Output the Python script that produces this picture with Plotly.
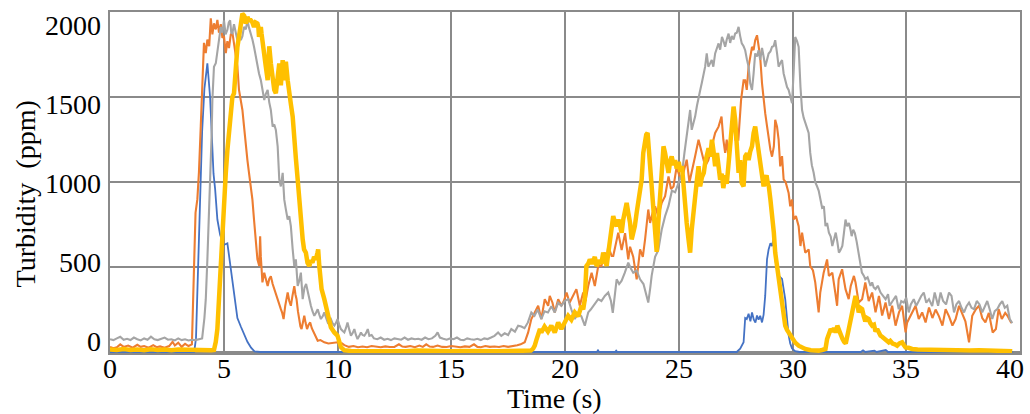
import plotly.graph_objects as go

# Turbidity readings (time in s, turbidity in ppm) for four sensors
blue_pts = [
    (0, 0), (3.7, 0), (3.78, 80), (3.85, 400), (3.95, 900), (4.05, 1300), (4.15, 1550), (4.28, 1700),
    (4.4, 1500), (4.48, 1250), (4.55, 1050), (4.62, 960), (4.72, 780), (4.84, 690), (5.0, 630),
    (5.16, 640), (5.3, 500), (5.45, 330), (5.6, 200), (5.75, 150), (5.9, 100), (6.04, 60), (6.2, 25),
    (6.35, 4), (6.6, 0), (21.4, 0), (21.45, 10), (21.5, 0), (22.2, 0), (22.25, 8), (22.3, 0),
    (27.55, 0), (27.7, 20), (27.85, 57), (27.92, 200), (27.99, 194), (28.07, 225), (28.15, 180),
    (28.22, 233), (28.3, 190), (28.37, 174), (28.44, 215), (28.51, 190), (28.58, 213), (28.66, 174),
    (28.73, 220), (28.8, 330), (28.88, 545), (28.95, 604), (29.03, 640), (29.1, 624), (29.17, 670),
    (29.25, 540), (29.32, 480), (29.39, 450), (29.46, 440), (29.54, 430), (29.61, 370), (29.68, 311),
    (29.76, 195), (29.83, 100), (29.9, 50), (29.98, 20), (30.12, 5), (30.3, 0), (33.0, 0), (33.1, 10),
    (33.2, 0), (33.6, 8), (33.7, 0), (34.1, 12), (34.2, 0), (39.7, 0),
]

orange_pts = [
    (0, 30), (0.15, 22), (0.3, 28), (0.45, 45), (0.6, 30), (0.8, 38), (1.0, 25), (1.2, 42), (1.35, 30),
    (1.5, 35), (1.7, 25), (1.9, 40), (2.05, 28), (2.2, 33), (2.4, 25), (2.6, 35), (2.75, 60), (2.85, 38),
    (3.0, 55), (3.15, 30), (3.3, 48), (3.45, 35), (3.6, 45), (3.65, 300), (3.68, 420), (3.76, 820),
    (3.84, 900), (3.91, 1060), (3.99, 1330), (4.06, 1560), (4.13, 1820), (4.21, 1760), (4.28, 1840),
    (4.36, 1800), (4.43, 1965), (4.5, 1870), (4.57, 1935), (4.65, 1900), (4.72, 1955), (4.79, 1880),
    (4.87, 1930), (4.94, 1850), (5.01, 1860), (5.09, 1760), (5.16, 1830), (5.23, 1790), (5.31, 1870),
    (5.38, 1880), (5.45, 1820), (5.52, 1760), (5.6, 1680), (5.67, 1543), (5.75, 1484), (5.82, 1425),
    (5.89, 1330), (5.97, 1210), (6.04, 1130), (6.11, 1055), (6.19, 975), (6.26, 897), (6.33, 780),
    (6.41, 663), (6.48, 545), (6.56, 506), (6.6, 682), (6.63, 560), (6.7, 410), (6.78, 467), (6.85, 420),
    (6.93, 388), (7.0, 430), (7.07, 446), (7.15, 400), (7.22, 370), (7.3, 330), (7.37, 311), (7.44, 280),
    (7.51, 252), (7.57, 230), (7.63, 194), (7.7, 270), (7.76, 320), (7.81, 350), (7.88, 300), (7.95, 272),
    (8.02, 330), (8.1, 388), (8.15, 340), (8.2, 311), (8.26, 240), (8.32, 174), (8.37, 150), (8.42, 135),
    (8.48, 180), (8.54, 213), (8.6, 170), (8.66, 135), (8.73, 160), (8.8, 174), (8.87, 140), (8.95, 115),
    (9.04, 90), (9.13, 66), (9.25, 70), (9.42, 57), (9.6, 50), (9.8, 55), (10.0, 57), (10.1, 45),
    (10.2, 50), (10.3, 40), (10.5, 30), (10.7, 35), (10.9, 28), (11.1, 32), (11.3, 28), (11.5, 35),
    (11.7, 30), (11.9, 28), (12.1, 33), (12.3, 29), (12.5, 30), (12.7, 45), (12.85, 32), (13.0, 30),
    (13.2, 35), (13.4, 28), (13.6, 38), (13.75, 30), (13.9, 45), (14.05, 32), (14.2, 30), (14.4, 38),
    (14.6, 30), (14.8, 29), (15.0, 35), (15.2, 30), (15.4, 28), (15.6, 33), (15.8, 30), (16.0, 45),
    (16.15, 30), (16.3, 28), (16.5, 35), (16.7, 30), (16.9, 32), (17.1, 29), (17.3, 35), (17.5, 30),
    (17.7, 33), (17.9, 40), (18.05, 45), (18.23, 57), (18.38, 115), (18.52, 194), (18.67, 233),
    (18.82, 272), (18.96, 194), (19.11, 311), (19.26, 272), (19.33, 330), (19.45, 290), (19.55, 233),
    (19.7, 311), (19.84, 272), (19.95, 300), (20.07, 350), (20.2, 290), (20.36, 330), (20.5, 370),
    (20.65, 272), (20.8, 350), (20.9, 300), (21.02, 388), (21.17, 467), (21.31, 388), (21.46, 506),
    (21.6, 506), (21.75, 586), (21.82, 520), (21.9, 624), (22.05, 565), (22.12, 565), (22.2, 620),
    (22.34, 703), (22.49, 600), (22.64, 700), (22.78, 545), (22.86, 620), (23.0, 560), (23.15, 428),
    (23.3, 604), (23.42, 560), (23.52, 663), (23.66, 839), (23.74, 760), (23.85, 820), (23.96, 858),
    (24.1, 800), (24.25, 878), (24.4, 917), (24.55, 1034), (24.66, 960), (24.77, 975), (24.91, 1093),
    (25.02, 1040), (25.14, 1014), (25.25, 1080), (25.35, 1132), (25.47, 1000), (25.57, 1055),
    (25.72, 1153), (25.87, 1250), (26.0, 1172), (26.16, 1094), (26.3, 1130), (26.46, 1210),
    (26.6, 1290), (26.75, 1327), (26.88, 1386), (26.96, 1250), (27.04, 1172), (27.11, 1250),
    (27.18, 1153), (27.3, 1300), (27.41, 1406), (27.49, 1250), (27.62, 1250), (27.74, 1484),
    (27.85, 1600), (27.92, 1600), (27.99, 1543), (28.07, 1680), (28.14, 1738), (28.22, 1797),
    (28.29, 1777), (28.36, 1836), (28.44, 1865), (28.51, 1797), (28.58, 1738), (28.66, 1582),
    (28.73, 1484), (28.8, 1406), (28.88, 1330), (28.95, 1250), (29.03, 1190), (29.1, 1150),
    (29.18, 1210), (29.24, 1367), (29.32, 1327), (29.39, 1250), (29.46, 1093), (29.54, 1153),
    (29.61, 1016), (29.7, 1000), (29.76, 975), (29.83, 936), (29.9, 858), (29.98, 897), (30.05, 780),
    (30.15, 800), (30.27, 741), (30.35, 624), (30.42, 703), (30.56, 585), (30.71, 604), (30.78, 506),
    (30.9, 480), (31.0, 410), (31.15, 233), (31.22, 350), (31.37, 467), (31.52, 545), (31.6, 448),
    (31.75, 467), (31.88, 350), (31.96, 272), (32.03, 428), (32.18, 487), (32.33, 370), (32.47, 311),
    (32.56, 389), (32.7, 448), (32.77, 409), (32.91, 291), (33.06, 311), (33.2, 410), (33.35, 300),
    (33.5, 350), (33.65, 233), (33.8, 330), (33.94, 215), (34.09, 291), (34.24, 194), (34.38, 272),
    (34.53, 155), (34.68, 233), (34.82, 272), (34.97, 115), (35.04, 174), (35.19, 213), (35.3, 250),
    (35.41, 272), (35.55, 194), (35.7, 233), (35.85, 174), (36.0, 262), (36.15, 200), (36.29, 250),
    (36.44, 210), (36.59, 155), (36.73, 252), (36.88, 210), (37.03, 155), (37.17, 194), (37.32, 272),
    (37.47, 220), (37.6, 180), (37.76, 57), (37.9, 213), (38.06, 252), (38.2, 272), (38.34, 200),
    (38.48, 174), (38.63, 230), (38.8, 115), (38.94, 135), (39.06, 252), (39.2, 194), (39.35, 230),
    (39.45, 213), (39.55, 185), (39.62, 170),
]

gray_pts = [
    (0, 75), (0.15, 70), (0.3, 80), (0.45, 90), (0.6, 72), (0.75, 78), (0.9, 70), (1.05, 85), (1.2, 75),
    (1.35, 68), (1.5, 80), (1.65, 72), (1.8, 90), (1.95, 75), (2.1, 70), (2.25, 78), (2.4, 85),
    (2.55, 72), (2.7, 75), (2.85, 68), (3.0, 80), (3.15, 70), (3.3, 75), (3.45, 68), (3.6, 72),
    (3.75, 70), (3.9, 75), (4.05, 80), (4.15, 200), (4.21, 311), (4.28, 545), (4.35, 800), (4.43, 1093),
    (4.47, 1290), (4.5, 1484), (4.57, 1680), (4.65, 1700), (4.72, 1760), (4.79, 1837), (4.87, 1914),
    (4.94, 1880), (5.01, 1953), (5.08, 1870), (5.16, 1897), (5.22, 1940), (5.28, 1953), (5.33, 1880),
    (5.38, 1877), (5.45, 1930), (5.53, 1875), (5.6, 1836), (5.67, 1880), (5.75, 1836), (5.82, 1860),
    (5.89, 1914), (5.97, 1900), (6.04, 1953), (6.11, 1910), (6.19, 1875), (6.26, 1840), (6.33, 1797),
    (6.4, 1740), (6.48, 1680), (6.55, 1640), (6.63, 1601), (6.7, 1540), (6.78, 1484), (6.85, 1520),
    (6.93, 1543), (7.0, 1470), (7.07, 1425), (7.15, 1327), (7.22, 1340), (7.29, 1308), (7.37, 1210),
    (7.44, 1015), (7.51, 975), (7.59, 1055), (7.66, 897), (7.73, 840), (7.81, 780), (7.88, 800),
    (7.95, 741), (8.03, 604), (8.1, 506), (8.17, 545), (8.25, 389), (8.32, 420), (8.39, 467),
    (8.47, 311), (8.55, 380), (8.62, 400), (8.69, 350), (8.76, 300), (8.83, 272), (8.9, 240),
    (8.98, 213), (9.05, 230), (9.13, 252), (9.2, 220), (9.27, 194), (9.35, 210), (9.42, 233),
    (9.5, 200), (9.57, 174), (9.64, 185), (9.71, 194), (9.78, 170), (9.86, 155), (9.93, 170),
    (10.0, 194), (10.08, 160), (10.15, 135), (10.22, 125), (10.3, 115), (10.37, 140), (10.44, 174),
    (10.52, 130), (10.59, 96), (10.66, 110), (10.74, 135), (10.81, 100), (10.88, 76), (10.96, 95),
    (11.03, 115), (11.1, 100), (11.18, 96), (11.25, 110), (11.33, 135), (11.4, 95), (11.5, 100),
    (11.6, 80), (11.75, 75), (11.9, 85), (12.05, 72), (12.2, 78), (12.35, 70), (12.5, 80), (12.65, 75),
    (12.8, 72), (12.95, 85), (13.1, 72), (13.25, 80), (13.4, 75), (13.55, 78), (13.7, 72), (13.85, 85),
    (14.0, 75), (14.15, 80), (14.3, 95), (14.4, 115), (14.5, 85), (14.65, 78), (14.8, 72), (14.95, 80),
    (15.1, 75), (15.25, 85), (15.4, 72), (15.55, 70), (15.7, 80), (15.85, 75), (16.0, 72), (16.15, 78),
    (16.3, 70), (16.45, 80), (16.6, 76), (16.75, 85), (16.9, 95), (17.06, 115), (17.2, 95), (17.35, 110),
    (17.5, 100), (17.64, 135), (17.8, 120), (17.94, 155), (18.08, 150), (18.22, 140), (18.37, 174),
    (18.52, 233), (18.66, 213), (18.8, 250), (18.96, 194), (19.1, 240), (19.25, 233), (19.4, 270),
    (19.55, 233), (19.7, 290), (19.84, 272), (19.98, 300), (20.14, 311), (20.28, 250), (20.43, 194),
    (20.58, 230), (20.72, 210), (20.87, 155), (21.02, 233), (21.13, 250), (21.24, 272), (21.35, 290),
    (21.46, 311), (21.6, 300), (21.75, 330), (21.9, 350), (22.02, 300), (22.1, 230), (22.2, 330),
    (22.27, 428), (22.38, 400), (22.49, 420), (22.63, 467), (22.78, 526), (22.9, 490), (23.0, 467),
    (23.15, 480), (23.3, 428), (23.45, 400), (23.59, 320), (23.66, 291), (23.75, 380), (23.81, 450),
    (23.96, 560), (24.1, 600), (24.25, 720), (24.4, 800), (24.55, 860), (24.7, 950), (24.84, 940),
    (25.0, 1000), (25.14, 1050), (25.25, 1172), (25.35, 1280), (25.43, 1367), (25.5, 1425),
    (25.57, 1308), (25.65, 1350), (25.72, 1386), (25.8, 1450), (25.87, 1503), (25.94, 1540),
    (26.01, 1582), (26.08, 1620), (26.16, 1680), (26.23, 1758), (26.3, 1680), (26.38, 1700),
    (26.45, 1719), (26.52, 1680), (26.6, 1758), (26.68, 1790), (26.75, 1817), (26.82, 1780),
    (26.9, 1855), (26.97, 1830), (27.04, 1797), (27.11, 1840), (27.19, 1875), (27.26, 1820),
    (27.33, 1860), (27.41, 1840), (27.48, 1875), (27.55, 1880), (27.63, 1914), (27.7, 1860),
    (27.77, 1817), (27.85, 1800), (27.92, 1777), (28.0, 1720), (28.07, 1680), (28.14, 1582),
    (28.22, 1543), (28.29, 1640), (28.36, 1758), (28.44, 1740), (28.51, 1777), (28.58, 1720),
    (28.66, 1790), (28.73, 1740), (28.8, 1680), (28.88, 1720), (28.95, 1758), (29.03, 1770),
    (29.1, 1797), (29.17, 1800), (29.24, 1836), (29.32, 1760), (29.39, 1680), (29.46, 1700),
    (29.54, 1719), (29.61, 1640), (29.68, 1601), (29.76, 1560), (29.83, 1543), (29.9, 1500),
    (29.98, 1465), (30.05, 1650), (30.12, 1855), (30.2, 1830), (30.27, 1797), (30.35, 1562),
    (30.42, 1425), (30.49, 1380), (30.56, 1348), (30.63, 1320), (30.71, 1290), (30.78, 1172),
    (30.85, 1100), (30.93, 1055), (31.0, 1000), (31.08, 975), (31.15, 950), (31.3, 850), (31.38, 858),
    (31.45, 741), (31.52, 760), (31.6, 703), (31.68, 680), (31.75, 624), (31.82, 660), (31.9, 703),
    (31.97, 650), (32.04, 585), (32.11, 600), (32.19, 624), (32.26, 700), (32.33, 780), (32.4, 740),
    (32.48, 760), (32.55, 720), (32.6, 682), (32.67, 720), (32.74, 700), (32.82, 650), (32.9, 585),
    (32.97, 520), (33.05, 467), (33.14, 448), (33.2, 428), (33.3, 440), (33.43, 389), (33.5, 410),
    (33.57, 380), (33.65, 370), (33.75, 390), (33.87, 350), (34.0, 330), (34.09, 311), (34.2, 340),
    (34.27, 272), (34.4, 300), (34.55, 330), (34.67, 252), (34.78, 300), (34.89, 291), (35.0, 320),
    (35.11, 233), (35.2, 280), (35.33, 311), (35.44, 272), (35.55, 300), (35.66, 330), (35.77, 350),
    (35.88, 290), (36.0, 311), (36.14, 270), (36.25, 350), (36.4, 272), (36.51, 350), (36.62, 300),
    (36.75, 280), (36.88, 350), (36.99, 330), (37.1, 233), (37.2, 280), (37.32, 300), (37.43, 260),
    (37.54, 233), (37.65, 270), (37.76, 291), (37.87, 260), (37.98, 252), (38.1, 300), (38.22, 280),
    (38.34, 233), (38.45, 270), (38.56, 300), (38.67, 250), (38.78, 194), (38.89, 240), (39.0, 252),
    (39.11, 280), (39.22, 300), (39.33, 260), (39.44, 272), (39.55, 194), (39.66, 170),
]

yellow_pts = [
    (0, 15), (0.3, 12), (0.6, 18), (0.9, 12), (1.2, 14), (1.5, 10), (1.8, 16), (2.1, 12), (2.4, 15),
    (2.7, 10), (3.0, 14), (3.3, 12), (3.6, 15), (3.9, 10), (4.2, 12), (4.45, 10), (4.57, 12), (4.65, 60),
    (4.72, 135), (4.78, 300), (4.84, 467), (4.9, 585), (4.94, 663), (5.01, 897), (5.09, 1055),
    (5.16, 1188), (5.23, 1290), (5.28, 1367), (5.31, 1445), (5.38, 1503), (5.45, 1523), (5.53, 1680),
    (5.6, 1797), (5.67, 1855), (5.75, 1953), (5.82, 1992), (5.9, 1980), (5.97, 1934), (6.04, 1973),
    (6.1, 1953), (6.19, 1953), (6.26, 1940), (6.33, 1914), (6.4, 1940), (6.48, 1934), (6.52, 1914),
    (6.55, 1855), (6.63, 1914), (6.66, 1875), (6.72, 1800), (6.78, 1777), (6.85, 1680), (6.93, 1601),
    (7.0, 1800), (7.07, 1700), (7.15, 1582), (7.22, 1543), (7.29, 1523), (7.37, 1630), (7.44, 1699),
    (7.51, 1570), (7.59, 1719), (7.66, 1600), (7.73, 1709), (7.81, 1600), (7.88, 1500), (7.95, 1460),
    (8.03, 1386), (8.1, 1290), (8.17, 1140), (8.25, 1015), (8.32, 877), (8.39, 780), (8.47, 663),
    (8.53, 604), (8.61, 585), (8.68, 526), (8.76, 506), (8.83, 540), (8.9, 526), (8.97, 560),
    (9.05, 545), (9.12, 585), (9.15, 604), (9.2, 506), (9.24, 450), (9.3, 370), (9.42, 311),
    (9.57, 213), (9.71, 145), (9.86, 115), (10.0, 96), (10.15, 29), (10.3, 10), (10.6, 6), (11.0, 5),
    (11.5, 8), (12.0, 5), (12.5, 6), (13.0, 4), (13.5, 8), (14.0, 5), (14.5, 7), (15.0, 5), (15.5, 6),
    (16.0, 4), (16.5, 7), (17.0, 5), (17.5, 6), (18.0, 5), (18.5, 8), (18.6, 20), (18.67, 37),
    (18.74, 70), (18.82, 110), (18.9, 135), (18.96, 115), (19.1, 150), (19.25, 120), (19.4, 155),
    (19.55, 115), (19.7, 174), (19.84, 135), (19.98, 170), (20.14, 213), (20.28, 190), (20.43, 233),
    (20.58, 210), (20.72, 272), (20.8, 250), (20.87, 311), (20.94, 506), (21.02, 520), (21.09, 545),
    (21.2, 520), (21.31, 560), (21.39, 506), (21.5, 540), (21.6, 520), (21.68, 585), (21.76, 550),
    (21.83, 506), (21.9, 580), (21.97, 663), (22.05, 720), (22.12, 800), (22.2, 760), (22.27, 741),
    (22.35, 780), (22.42, 740), (22.49, 702), (22.56, 780), (22.63, 839), (22.71, 878), (22.78, 820),
    (22.86, 760), (22.93, 663), (23.0, 700), (23.07, 741), (23.15, 820), (23.22, 897), (23.3, 960),
    (23.37, 1015), (23.44, 1172), (23.52, 1250), (23.57, 1280), (23.63, 1290), (23.7, 1152),
    (23.75, 1050), (23.81, 995), (23.88, 860), (23.96, 700), (24.03, 590), (24.1, 760), (24.17, 900),
    (24.25, 1055), (24.33, 1211), (24.4, 1170), (24.47, 1100), (24.55, 1055), (24.62, 1120),
    (24.69, 1152), (24.77, 1100), (24.84, 1130), (24.91, 1080), (25.0, 1120), (25.07, 1060),
    (25.14, 1094), (25.2, 1000), (25.28, 850), (25.35, 760), (25.43, 663), (25.5, 585), (25.57, 720),
    (25.65, 850), (25.72, 936), (25.8, 1015), (25.87, 1094), (25.94, 975), (26.02, 1030), (26.1, 1055),
    (26.16, 1113), (26.24, 1180), (26.31, 1200), (26.38, 1150), (26.46, 1250), (26.53, 1180),
    (26.6, 1094), (26.68, 1172), (26.75, 1100), (26.82, 1015), (26.89, 1050), (26.96, 965),
    (27.04, 1040), (27.11, 990), (27.18, 1094), (27.26, 1211), (27.33, 1289), (27.41, 1445),
    (27.48, 1367), (27.56, 1172), (27.63, 1055), (27.7, 1130), (27.77, 995), (27.85, 975),
    (27.92, 1152), (28.0, 1170), (28.07, 1130), (28.14, 1180), (28.22, 1211), (28.29, 1289),
    (28.36, 1328), (28.44, 1250), (28.51, 1172), (28.58, 1094), (28.66, 1055), (28.73, 975),
    (28.8, 1020), (28.86, 1040), (28.91, 995), (28.96, 975), (29.03, 897), (29.1, 819), (29.18, 702),
    (29.24, 585), (29.32, 506), (29.39, 428), (29.46, 350), (29.54, 252), (29.61, 213), (29.68, 155),
    (29.76, 130), (29.83, 115), (29.9, 95), (29.98, 76), (30.12, 55), (30.27, 37), (30.4, 25),
    (30.56, 18), (30.8, 10), (31.0, 8), (31.15, 8), (31.3, 12), (31.45, 18), (31.52, 76), (31.6, 115),
    (31.68, 135), (31.75, 120), (31.82, 140), (31.9, 115), (31.97, 155), (32.04, 130), (32.11, 100),
    (32.2, 76), (32.27, 60), (32.34, 50), (32.45, 120), (32.56, 194), (32.62, 220), (32.69, 291),
    (32.77, 330), (32.84, 290), (32.91, 233), (32.98, 260), (33.06, 252), (33.13, 213), (33.2, 180),
    (33.27, 200), (33.35, 194), (33.42, 170), (33.5, 155), (33.58, 160), (33.65, 120), (33.72, 135),
    (33.8, 110), (33.87, 96), (33.94, 90), (34.02, 80), (34.09, 76), (34.16, 70), (34.23, 57),
    (34.3, 65), (34.4, 50), (34.5, 45), (34.6, 37), (34.7, 50), (34.82, 57), (34.9, 40), (34.97, 27),
    (35.1, 25), (35.26, 18), (35.5, 15), (35.7, 14), (35.9, 18), (36.1, 12), (36.4, 10), (36.7, 12),
    (37.0, 8), (37.4, 10), (37.8, 8), (38.2, 10), (38.6, 7), (39.0, 8), (39.4, 6), (39.66, 5),
]

x_ticks = [0, 5, 10, 15, 20, 25, 30, 35, 40]
y_ticks = [0, 500, 1000, 1500, 2000]
y_tick_text = ["0", "500", "1000", "1500", "2000"]

FONT = "Liberation Serif"
FONT_SIZE = 28
GRID = "#8a8a8a"

series = [
    (blue_pts, "#4472C4", 1.8),
    (orange_pts, "#ED7D31", 2.1),
    (gray_pts, "#A5A5A5", 2.1),
    (yellow_pts, "#FFC000", 4.5),
]

fig = go.Figure()
for pts, color, width in series:
    t, v = zip(*pts)
    fig.add_trace(go.Scatter(
        x=list(t), y=list(v), mode="lines",
        line=dict(color=color, width=width),
        showlegend=False, hoverinfo="skip",
    ))

label_font = dict(family=FONT, size=FONT_SIZE, color="black")
annotations = []

# y tick labels sit slightly inside the top and bottom grid lines
n = len(y_ticks)
for i, (val, txt) in enumerate(zip(y_ticks, y_tick_text)):
    shift = -10 + 23 * i / (n - 1)
    annotations.append(dict(
        x=0, xref="paper", y=val, yref="y", text=txt, showarrow=False,
        xanchor="right", yanchor="middle", xshift=-7, yshift=-shift,
        font=label_font,
    ))

# x tick labels; the last one is kept inside the page edge
for i, val in enumerate(x_ticks):
    last = i == len(x_ticks) - 1
    annotations.append(dict(
        x=val, xref="x", y=0, yref="paper", text=str(val), showarrow=False,
        xanchor="right" if last else "center", yanchor="middle",
        xshift=6 if last else 0, yshift=-15,
        font=label_font,
    ))

annotations.append(dict(
    x=0.489, xref="paper", y=-0.132, yref="paper", text="Time (s)", showarrow=False,
    xanchor="center", yanchor="middle", font=label_font,
))
annotations.append(dict(
    x=-0.093, xref="paper", y=0.466, yref="paper", text="Turbidity\u00a0 (ppm)", showarrow=False,
    xanchor="center", yanchor="middle", textangle=-90, font=label_font,
))

fig.update_layout(
    width=1030, height=414,
    margin=dict(l=110, r=10, t=12, b=61, autoexpand=False),
    paper_bgcolor="white", plot_bgcolor="white",
    font=dict(family=FONT, size=FONT_SIZE, color="black"),
    annotations=annotations,
    xaxis=dict(
        range=[0, 40], tickvals=x_ticks, showticklabels=False,
        showgrid=True, gridcolor=GRID, gridwidth=2,
        showline=True, linecolor=GRID, linewidth=2, mirror=True,
        zeroline=False, ticks="", layer="below traces",
    ),
    yaxis=dict(
        range=[-6, 2002], tickvals=y_ticks, showticklabels=False,
        showgrid=True, gridcolor=GRID, gridwidth=2,
        showline=True, linecolor=GRID, linewidth=2, mirror=True,
        zeroline=False, ticks="", layer="below traces",
    ),
)

fig.write_html("out.html")
